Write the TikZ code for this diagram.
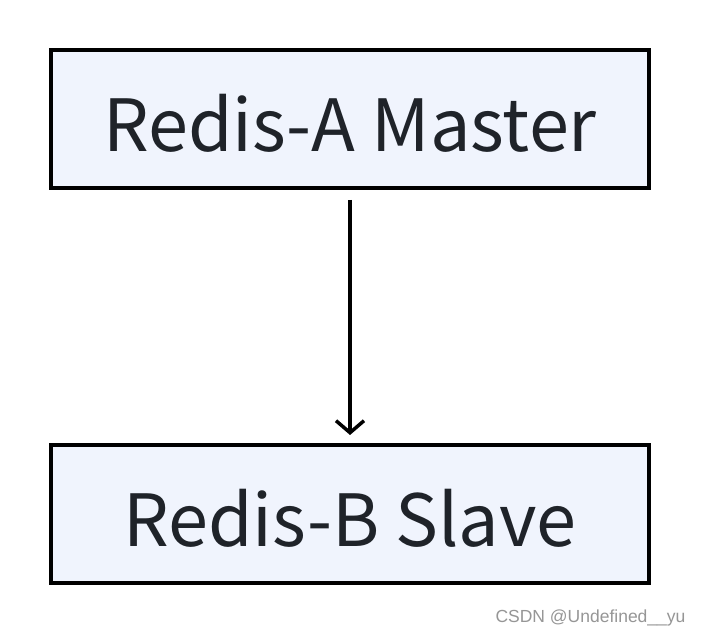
\documentclass[tikz,border=0pt]{standalone}
\usepackage{fontspec}
\setmainfont{Noto Sans CJK SC}
\newfontfamily\markfont{Liberation Sans}
\usepackage{xcolor}
\usepackage{tikz}
\usetikzlibrary{arrows.meta}
\definecolor{boxfill}{RGB}{240,244,253}
\definecolor{boxtext}{RGB}{31,35,41}
\definecolor{markgray}{RGB}{150,150,150}

\begin{document}
\begin{tikzpicture}[
  x=1pt, y=-1pt,
  redis/.style={draw=black, line width=4pt, fill=boxfill, text=boxtext,
    minimum width=598pt, minimum height=138pt, inner sep=0pt,
    text height=65pt, text depth=0pt,
    font=\fontsize{72}{86}\selectfont},
  repl/.style={line width=3.5pt, -{Straight Barb[length=12pt,width=28pt,line width=3.5pt]}}
]
\useasboundingbox[fill=white] (0,0) rectangle (702,636);
\node[redis] (master) at (350,119) {Redis-A Master};
\node[redis] (slave) at (350,514) {Redis-B Slave};
\draw[repl, shorten <=10pt, shorten >=8pt] (master.south) -- (slave.north);
\node[anchor=base east, text=markgray, font=\markfont\fontsize{17.5}{20}\selectfont] (mark) at (689,622) {CSDN @Undefined\_\_yu};
\end{tikzpicture}
\end{document}
